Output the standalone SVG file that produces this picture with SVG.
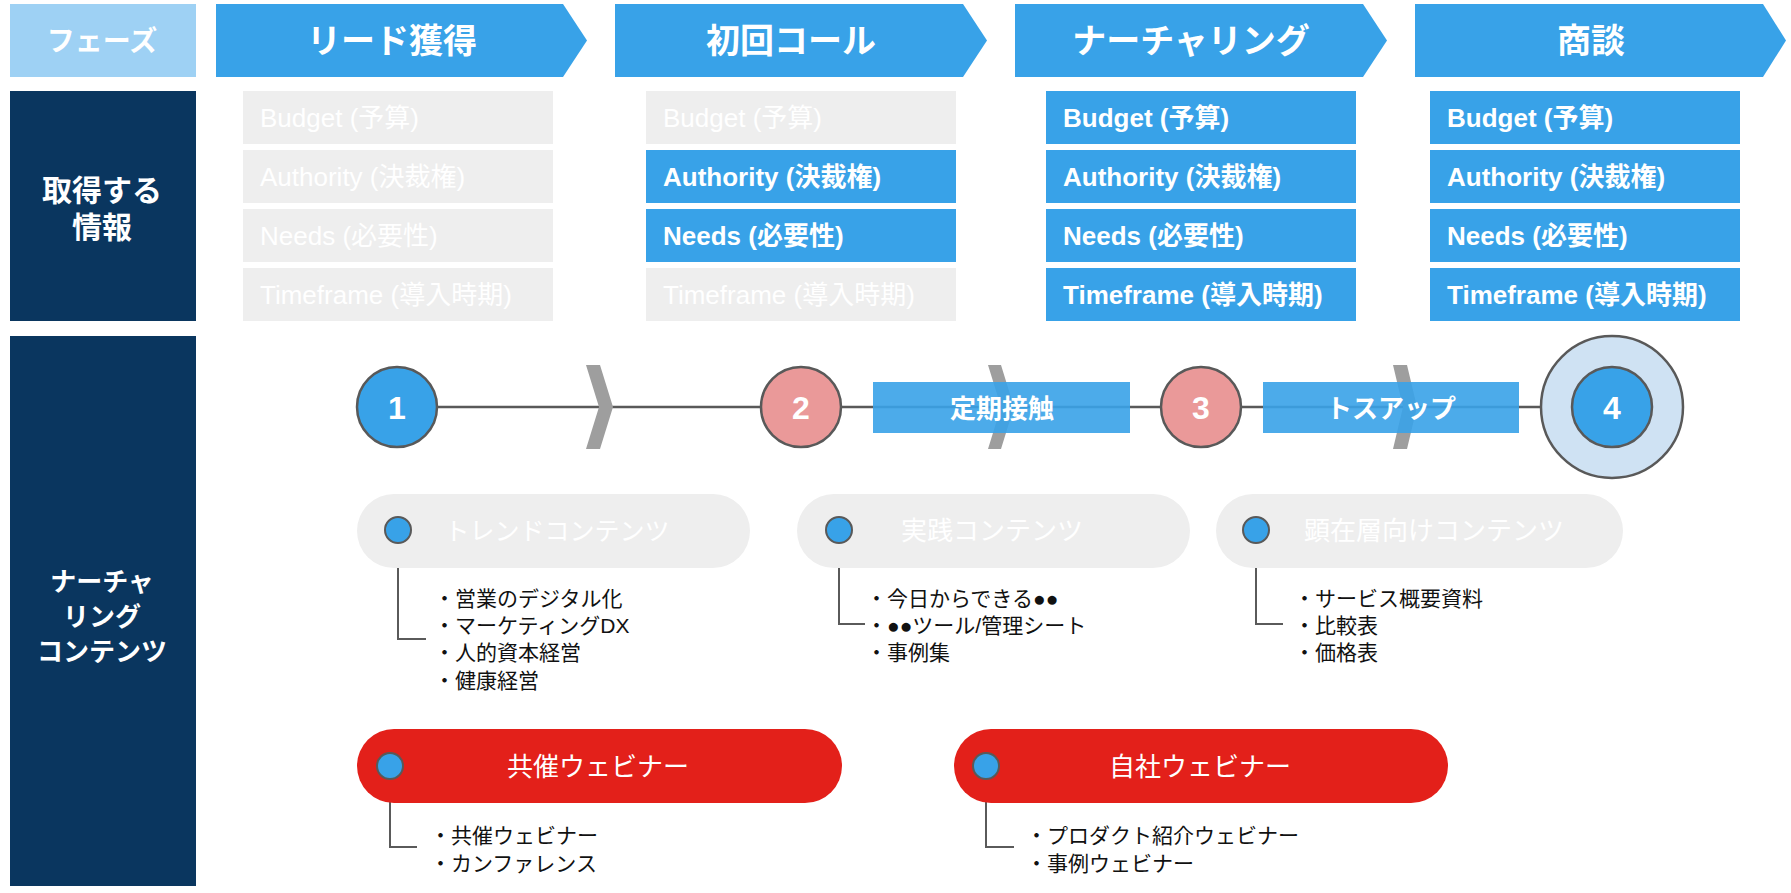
<svg xmlns="http://www.w3.org/2000/svg" width="1791" height="893" viewBox="0 0 1791 893">
<style>
text{font-family:"Liberation Sans","Noto Sans CJK JP",sans-serif;dominant-baseline:central}
.w{fill:#FFFFFF}
.k{fill:#111111}
.b{font-weight:bold}
.c{text-anchor:middle}
.phase{fill:#38A2E8}
.navy{fill:#0A365F}
.gbox{fill:#EEEEEE}
.bbox{fill:#38A2E8}
.info{font-size:26px}
.chev{fill:#9E9E9E}
.band{fill:#38A2E8;fill-opacity:0.9}
.ln{stroke:#595959;stroke-width:2.5;fill:none}
.cl{stroke:#5A5A5A;stroke-width:2;fill:none}
.dot{fill:#38A2E8;stroke:#595959;stroke-width:2}
.num{stroke:#595959;stroke-width:2.5}
.pill{fill:#EEEEEE}
.red{fill:#E3201A}
.bul{font-size:21px}
</style>

<g id="connectors">
  <line class="ln" x1="437" y1="407" x2="1541" y2="407"/>
  <polyline class="cl" points="398,543 398,639 426,639"/>
  <polyline class="cl" points="839,543 839,624 865,624"/>
  <polyline class="cl" points="1256,543 1256,624 1283,624"/>
  <polyline class="cl" points="390,779 390,847 417,847"/>
  <polyline class="cl" points="986,779 986,847 1014,847"/>
</g>

<g id="phase-label">
  <rect x="10" y="4" width="186" height="73" fill="#9ED1F4"/>
  <text class="w b c" x="102" y="41" font-size="28">フェーズ</text>
</g>
<g id="phase-1">
  <polygon class="phase" points="216,4 563,4 587,40.5 563,77 216,77"/>
  <text class="w b c" x="392" y="41" font-size="34">リード獲得</text>
</g>
<g id="phase-2">
  <polygon class="phase" points="615,4 963,4 987,40.5 963,77 615,77"/>
  <text class="w b c" x="791" y="41" font-size="34">初回コール</text>
</g>
<g id="phase-3">
  <polygon class="phase" points="1015,4 1363,4 1387,40.5 1363,77 1015,77"/>
  <text class="w b c" x="1191" y="41" font-size="34">ナーチャリング</text>
</g>
<g id="phase-4">
  <polygon class="phase" points="1415,4 1763,4 1786,40.5 1763,77 1415,77"/>
  <text class="w b c" x="1591" y="41" font-size="34">商談</text>
</g>

<g id="label-info">
  <rect class="navy" x="10" y="91" width="186" height="230"/>
  <text class="w b c" x="102" y="190" font-size="30">取得する</text>
  <text class="w b c" x="102" y="227" font-size="30">情報</text>
</g>

<g id="info-col-1">
  <rect class="gbox" x="243" y="91" width="310" height="53"/>
  <text class="w info" x="260" y="118">Budget (予算)</text>
  <rect class="gbox" x="243" y="150" width="310" height="53"/>
  <text class="w info" x="260" y="177">Authority (決裁権)</text>
  <rect class="gbox" x="243" y="209" width="310" height="53"/>
  <text class="w info" x="260" y="236">Needs (必要性)</text>
  <rect class="gbox" x="243" y="268" width="310" height="53"/>
  <text class="w info" x="260" y="295">Timeframe (導入時期)</text>
</g>
<g id="info-col-2">
  <rect class="gbox" x="646" y="91" width="310" height="53"/>
  <text class="w info" x="663" y="118">Budget (予算)</text>
  <rect class="bbox" x="646" y="150" width="310" height="53"/>
  <text class="w b info" x="663" y="177">Authority (決裁権)</text>
  <rect class="bbox" x="646" y="209" width="310" height="53"/>
  <text class="w b info" x="663" y="236">Needs (必要性)</text>
  <rect class="gbox" x="646" y="268" width="310" height="53"/>
  <text class="w info" x="663" y="295">Timeframe (導入時期)</text>
</g>
<g id="info-col-3">
  <rect class="bbox" x="1046" y="91" width="310" height="53"/>
  <text class="w b info" x="1063" y="118">Budget (予算)</text>
  <rect class="bbox" x="1046" y="150" width="310" height="53"/>
  <text class="w b info" x="1063" y="177">Authority (決裁権)</text>
  <rect class="bbox" x="1046" y="209" width="310" height="53"/>
  <text class="w b info" x="1063" y="236">Needs (必要性)</text>
  <rect class="bbox" x="1046" y="268" width="310" height="53"/>
  <text class="w b info" x="1063" y="295">Timeframe (導入時期)</text>
</g>
<g id="info-col-4">
  <rect class="bbox" x="1430" y="91" width="310" height="53"/>
  <text class="w b info" x="1447" y="118">Budget (予算)</text>
  <rect class="bbox" x="1430" y="150" width="310" height="53"/>
  <text class="w b info" x="1447" y="177">Authority (決裁権)</text>
  <rect class="bbox" x="1430" y="209" width="310" height="53"/>
  <text class="w b info" x="1447" y="236">Needs (必要性)</text>
  <rect class="bbox" x="1430" y="268" width="310" height="53"/>
  <text class="w b info" x="1447" y="295">Timeframe (導入時期)</text>
</g>

<g id="label-nurture">
  <rect class="navy" x="10" y="336" width="186" height="550"/>
  <text class="w b c" x="102" y="582" font-size="26">ナーチャ</text>
  <text class="w b c" x="102" y="617" font-size="26">リング</text>
  <text class="w b c" x="102" y="652" font-size="26">コンテンツ</text>
</g>

<g id="timeline-chevrons">
  <polygon class="chev" points="586,365 600,365 613,407 600,449 586,449 599,407"/>
  <polygon class="chev" points="988,365 1001,365 1014,407 1001,449 988,449 1001,407"/>
  <polygon class="chev" points="1393,365 1407,365 1417,407 1407,449 1393,449 1403,407"/>
</g>

<g id="band-teiki">
  <rect class="band" x="873" y="382" width="257" height="51"/>
  <text class="w b c" x="1002" y="409" font-size="26">定期接触</text>
</g>
<g id="band-tossup">
  <rect class="band" x="1263" y="382" width="256" height="51"/>
  <text class="w b c" x="1391" y="409" font-size="26">トスアップ</text>
</g>

<g id="step-1">
  <circle class="num" cx="397" cy="407" r="40" fill="#38A2E8"/>
  <text class="w b c" x="397" y="408" font-size="32">1</text>
</g>
<g id="step-2">
  <circle class="num" cx="801" cy="407" r="40" fill="#EA9999"/>
  <text class="w b c" x="801" y="408" font-size="32">2</text>
</g>
<g id="step-3">
  <circle class="num" cx="1201" cy="407" r="40" fill="#EA9999"/>
  <text class="w b c" x="1201" y="408" font-size="32">3</text>
</g>
<g id="step-4">
  <circle class="num" cx="1612" cy="407" r="71" fill="#CFE2F3"/>
  <circle class="num" cx="1612" cy="407" r="40" fill="#38A2E8"/>
  <text class="w b c" x="1612" y="408" font-size="32">4</text>
</g>

<g id="content-trend">
  <rect class="pill" x="357" y="494" width="393" height="74" rx="37"/>
  <circle class="dot" cx="398" cy="530" r="13"/>
  <text class="w c" x="557" y="531" font-size="25">トレンドコンテンツ</text>
  <text class="k bul" x="434" y="598">・営業のデジタル化</text>
  <text class="k bul" x="434" y="625">・マーケティングDX</text>
  <text class="k bul" x="434" y="652">・人的資本経営</text>
  <text class="k bul" x="434" y="680">・健康経営</text>
</g>
<g id="content-practice">
  <rect class="pill" x="797" y="494" width="393" height="74" rx="37"/>
  <circle class="dot" cx="839" cy="530" r="13"/>
  <text class="w c" x="992" y="531" font-size="26">実践コンテンツ</text>
  <text class="k bul" x="866" y="598">・今日からできる●●</text>
  <text class="k bul" x="866" y="625">・●●ツール/管理シート</text>
  <text class="k bul" x="866" y="652">・事例集</text>
</g>
<g id="content-explicit">
  <rect class="pill" x="1216" y="494" width="407" height="74" rx="37"/>
  <circle class="dot" cx="1256" cy="530" r="13"/>
  <text class="w c" x="1434" y="531" font-size="26">顕在層向けコンテンツ</text>
  <text class="k bul" x="1294" y="598">・サービス概要資料</text>
  <text class="k bul" x="1294" y="625">・比較表</text>
  <text class="k bul" x="1294" y="652">・価格表</text>
</g>

<g id="webinar-cohost">
  <rect class="red" x="357" y="729" width="485" height="74" rx="37"/>
  <circle class="dot" cx="390" cy="766" r="13"/>
  <text class="w c" x="598" y="767" font-size="26">共催ウェビナー</text>
  <text class="k bul" x="430" y="835">・共催ウェビナー</text>
  <text class="k bul" x="430" y="863">・カンファレンス</text>
</g>
<g id="webinar-own">
  <rect class="red" x="954" y="729" width="494" height="74" rx="37"/>
  <circle class="dot" cx="986" cy="766" r="13"/>
  <text class="w c" x="1200" y="767" font-size="26">自社ウェビナー</text>
  <text class="k bul" x="1026" y="835">・プロダクト紹介ウェビナー</text>
  <text class="k bul" x="1026" y="863">・事例ウェビナー</text>
</g>
</svg>
